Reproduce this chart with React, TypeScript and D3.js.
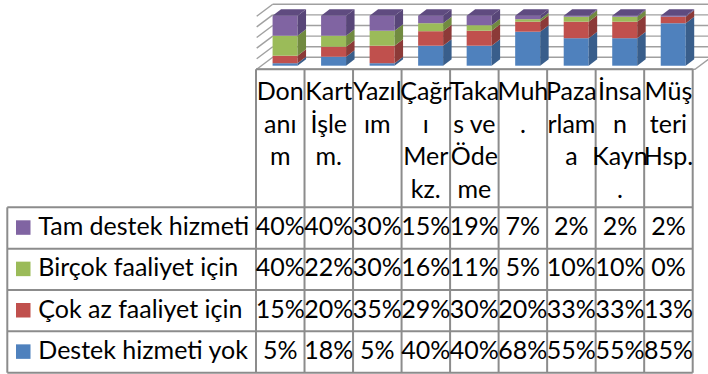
import React from "react";
import * as d3 from "d3";

// Categories (full names) and how each is wrapped in the table header
const categories = [
  "Donanım",
  "Kart İşlem.",
  "Yazılım",
  "Çağrı Merkz.",
  "Takas ve Ödeme",
  "Muh.",
  "Pazarlama",
  "İnsan Kayn.",
  "Müşteri Hsp.",
];
const headerLines = [
  ["Don", "anı", "m"],
  ["Kart", "İşle", "m."],
  ["Yazıl", "ım"],
  ["Çağr", "ı", "Mer", "kz."],
  ["Taka", "s ve", "Öde", "me"],
  ["Muh", "."],
  ["Paza", "rlam", "a"],
  ["İnsa", "n", "Kayn", "."],
  ["Müş", "teri", "Hsp."],
];

// Series, bottom of the stack first
const seriesNames = [
  "Destek hizmeti yok",
  "Çok az faaliyet için",
  "Birçok faaliyet için",
  "Tam destek hizmeti",
];
const destekYok = [5, 18, 5, 40, 40, 68, 55, 55, 85];
const cokAz = [15, 20, 35, 29, 30, 20, 33, 33, 13];
const bircok = [40, 22, 30, 16, 11, 5, 10, 10, 0];
const tamDestek = [40, 40, 30, 15, 19, 7, 2, 2, 2];
const seriesValues = [destekYok, cokAz, bircok, tamDestek];

const valueTicks = [0, 20, 40, 60, 80, 100];

// Face colours per series: front, side, top
const palette = [
  { front: "#4F81BD", side: "#395E8B", top: "#41699A" },
  { front: "#C0504D", side: "#8C3A38", top: "#9C413E" },
  { front: "#9BBB59", side: "#718A40", top: "#7E9B48" },
  { front: "#8064A2", side: "#584678", top: "#5F4B80" },
];

const W = 708;
const H = 374;
const FONT = "Lato, 'Open Sans', sans-serif";
const FONT_SIZE = 25;

// Oblique 3D projection
const floorY = 69.3;
const depthDx = 16;
const depthDy = 12;
const zFront = 0.3;
const zBack = 0.83;

const tableLeft = 7.3;
const colLeft = 256;
const colRight = 692.7;
const floorRight = 695;
const headerTop = floorY;
const headerBottom = 207.3;
const tableBottom = 372.7;

const x = d3.scaleBand<string>().domain(categories).range([colLeft, colRight]);
const xBar = d3
  .scaleBand<string>()
  .domain(categories)
  .range([colLeft, colRight])
  .paddingInner(0.485)
  .paddingOuter(0.2425);
const yBar = d3.scaleLinear().domain([0, 100]).range([0, 50]);
const yWall = d3.scaleLinear().domain([0, 100]).range([0, 53]);

const rows = d3
  .scaleBand<string>()
  .domain([...seriesNames].reverse())
  .range([headerBottom, tableBottom]);

function proj(px: number, z: number, h: number): [number, number] {
  return [px + depthDx * z, floorY - depthDy * z - h];
}

function poly(pts: [number, number][]) {
  return pts.map((p) => `${p[0].toFixed(2)},${p[1].toFixed(2)}`).join(" ");
}

const keys = ["s0", "s1", "s2", "s3"];
const tableData = categories.map((c, i) => {
  const row: Record<string, number | string> = { cat: c };
  keys.forEach((k, j) => (row[k] = seriesValues[j][i]));
  return row;
});
const stacked = d3.stack<any>().keys(keys)(tableData as any);

export default function App() {
  const gridColor = "#A0A0A0";
  const borderColor = "#8C8C8C";

  const bars: React.ReactNode[] = [];
  categories.forEach((cat, i) => {
    const x0 = xBar(cat)!;
    const x1 = x0 + xBar.bandwidth();
    // topmost non-empty segment carries the visible top face
    let topIdx = -1;
    stacked.forEach((s, j) => {
      if (s[i][1] - s[i][0] > 0) topIdx = j;
    });
    stacked.forEach((s, j) => {
      const v0 = s[i][0];
      const v1 = s[i][1];
      if (v1 - v0 <= 0) return;
      const h0 = yBar(v0);
      const h1 = yBar(v1);
      const c = palette[j];
      const a = proj(x0, zFront, h0);
      const b = proj(x1, zFront, h0);
      const bb = proj(x1, zBack, h0);
      const cc = proj(x1, zBack, h1);
      const d = proj(x1, zFront, h1);
      const e = proj(x0, zFront, h1);
      const f = proj(x0, zBack, h1);
      bars.push(
        <g key={`${cat}-${j}`}>
          <polygon points={poly([a, b, d, e])} fill={c.front} />
          <polygon points={poly([b, bb, cc, d])} fill={c.side} />
          {j === topIdx && <polygon points={poly([e, d, cc, f])} fill={c.top} />}
        </g>
      );
    });
  });

  return (
    <svg
      width={W}
      height={H}
      viewBox={`0 0 ${W} ${H}`}
      style={{ position: "absolute", left: 0, top: 0, background: "#fff" }}
      fontFamily={FONT}
    >
      <rect width={W} height={H} fill="#fff" />

      {/* walls: back wall gridlines and left wall gridlines */}
      <g stroke={gridColor} strokeWidth={1.4} fill="none">
        {valueTicks.map((t) => {
          const l0 = proj(colLeft + 0.7, 0, yWall(t));
          const l1 = proj(colLeft + 0.7, 1, yWall(t));
          const r1 = proj(floorRight, 1, yWall(t));
          return (
            <g key={`grid-${t}`}>
              <line x1={l0[0]} y1={l0[1]} x2={l1[0]} y2={l1[1]} />
              <line x1={l1[0]} y1={l1[1]} x2={r1[0]} y2={r1[1]} />
            </g>
          );
        })}
        {/* floor front and right edges */}
        {(() => {
          const fl = proj(colLeft + 0.7, 0, 0);
          const fr = proj(floorRight, 0, 0);
          const br = proj(floorRight, 1, 0);
          return <polyline points={poly([fl, fr, br])} />;
        })()}
      </g>

      {bars}

      {/* data table */}
      <g stroke={borderColor} strokeWidth={2} fill="none">
        <line x1={colLeft} y1={headerTop} x2={colRight} y2={headerTop} />
        <line x1={tableLeft} y1={headerBottom} x2={colRight} y2={headerBottom} />
        {rows.domain().map((name) => {
          const yb = rows(name)! + rows.bandwidth();
          return <line key={`hl-${name}`} x1={tableLeft} y1={yb} x2={colRight} y2={yb} />;
        })}
        <line x1={tableLeft} y1={headerBottom} x2={tableLeft} y2={tableBottom} />
        {categories.map((c) => (
          <line key={`vl-${c}`} x1={x(c)!} y1={headerTop} x2={x(c)!} y2={tableBottom} />
        ))}
        <line x1={colRight} y1={headerTop} x2={colRight} y2={tableBottom} />
      </g>

      {/* header labels */}
      <g fontSize={FONT_SIZE} fill="#000" textAnchor="middle">
        {categories.map((c, i) => (
          <text key={`hd-${c}`} x={x(c)! + x.bandwidth() / 2} y={100}>
            {headerLines[i].map((line, k) => (
              <tspan key={k} x={x(c)! + x.bandwidth() / 2} y={100 + k * 32.5}>
                {line}
              </tspan>
            ))}
          </text>
        ))}
      </g>

      {/* series rows: legend key, name and values */}
      {rows.domain().map((name) => {
        const j = seriesNames.indexOf(name);
        const top = rows(name)!;
        const base = top + 27.7;
        return (
          <g key={`row-${name}`} fontSize={FONT_SIZE} fill="#000">
            <rect x={16} y={top + 13} width={14.5} height={14.5} fill={palette[j].front} />
            <text x={38.3} y={base}>
              {name}
            </text>
            {categories.map((c, i) => (
              <text key={c} x={x(c)! + x.bandwidth() / 2} y={base} textAnchor="middle">
                {`${seriesValues[j][i]}%`}
              </text>
            ))}
          </g>
        );
      })}
    </svg>
  );
}
